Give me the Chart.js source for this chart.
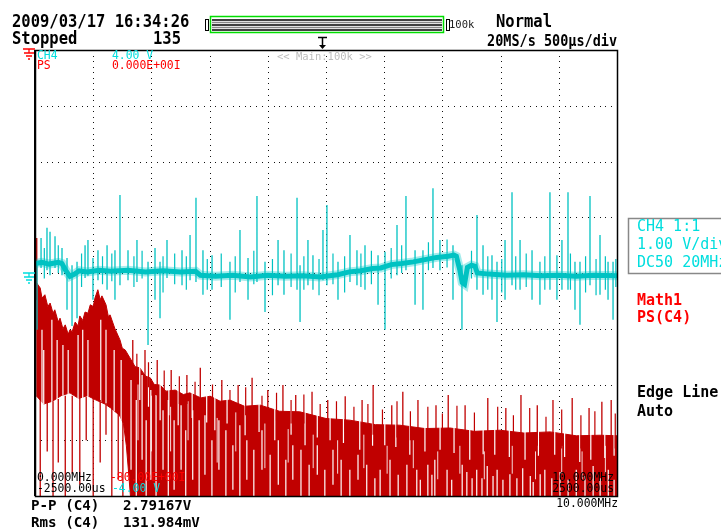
<!DOCTYPE html>
<html>
<head>
<meta charset="utf-8">
<script src="https://cdn.jsdelivr.net/npm/chart.js@4.4.1/dist/chart.umd.min.js"></script>
<style>
html, body { margin: 0; padding: 0; background: #fff; }
#wrap { position: relative; width: 721px; height: 530px; overflow: hidden; }
#wrap canvas { position: absolute; left: 0; top: 0; }
.t { position: absolute; white-space: pre; font-family: 'DejaVu Sans Mono', monospace; line-height: 1; }
</style>
</head>
<body>
<div id="wrap"><canvas id="scope" width="721" height="530"></canvas></div>
<script>
// CH4 trace: time in us, volts (1 V/div)
var baseT = [-2500,-2440,-2380,-2300,-2268,-2240,-2200,-2160,-2120,-2050,-1950,-1850,-1700,-1550,-1400,-1250,-1120,-1080,-950,-800,-650,-500,-350,-200,-50,100,200,300,400,470,560,650,750,850,950,1050,1100,1120,1150,1170,1190,1215,1250,1280,1300,1400,1550,1700,1850,2000,2150,2300,2500];
var baseV = [0.17,0.19,0.16,0.19,0.17,0.06,-0.06,-0.02,0.04,0.02,0.05,0.03,0.05,0.02,0.04,0.02,0.03,-0.04,-0.06,-0.04,-0.07,-0.04,-0.06,-0.05,-0.07,-0.03,0.02,0.04,0.08,0.09,0.15,0.17,0.2,0.24,0.28,0.3,0.32,0.3,0.05,-0.17,-0.2,0.1,0.14,0.12,0.0,-0.02,-0.04,-0.03,-0.05,-0.04,-0.06,-0.04,-0.05];

var spikeT = [-2483,-2448,-2397,-2371,-2328,-2268,-2225,-2182,-2139,-2070,-2045,-2002,-1959,-1881,-1813,-1770,-1701,-1624,-1529,-1469,-1426,-1366,-1237,-1168,-1117,-1057,-979,-825,-739,-670,-593,-524,-412,-361,-249,-223,-155,-112,-26,8,103,206,266,335,447,507,610,687,765,833,919,979,1091,1168,1297,1349,1426,1469,1538,1598,1667,1770,1838,1924,1984,2027,2079,2139,2182,2268,2354,2423,2466];
var spikeHi = [0.20,0.63,0.81,0.74,0.66,0.45,0.27,0.14,0.20,0.50,0.59,0.27,0.41,0.50,0.41,1.40,0.41,0.59,0.20,0.45,0.20,0.59,0.41,0.68,1.35,0.41,0.32,0.20,0.77,0.27,1.38,0.20,0.59,0.41,1.35,0.14,0.59,0.32,0.77,1.22,0.20,0.68,0.41,0.50,0.32,0.38,0.86,1.38,0.41,0.41,1.52,0.59,0.50,0.14,1.04,0.50,0.32,0.20,0.59,1.45,0.59,0.41,0.20,1.45,0.32,0.59,1.45,0.20,0.20,1.38,0.68,0.20,0.20];
var spikeLo = [-1.02,0.09,0.05,-0.04,0.09,-0.04,-0.66,-0.95,-0.81,-0.09,-0.05,-0.48,-0.13,-0.30,-0.48,-0.22,-0.13,-0.16,-1.29,-0.48,-0.81,-0.09,-0.22,-0.13,-0.16,-0.39,-0.30,-0.84,-0.16,-0.48,-0.16,-0.70,-0.22,-0.39,-0.30,-0.88,-0.22,-0.30,-0.13,-0.22,-0.48,-0.16,-0.22,-0.30,-0.57,-1.02,-0.04,0.05,-0.57,-0.66,0.09,0.05,-0.48,-1.02,-0.30,-0.39,-0.48,-0.88,-0.48,-0.22,-0.30,-0.48,-0.57,-0.30,-0.48,-0.30,-0.30,-0.66,-0.93,-0.22,-0.39,-0.48,-0.84];

// small glitches on CH4
var blipT = [-2420,-2300,-2100,-1920,-1840,-1650,-1580,-1400,-1300,-1200,-1020,-900,-780,-620,-460,-300,-190,-60,60,160,300,390,560,650,880,1040,1250,1390,1510,1630,1720,1880,2100,2230,2320,2400,2490];
var blipHi = [0.45,0.5,0.35,0.3,0.35,0.3,0.4,0.3,0.35,0.3,0.25,0.35,0.3,0.4,0.25,0.35,0.3,0.25,0.35,0.3,0.35,0.4,0.45,0.5,0.55,0.6,0.4,0.3,0.25,0.3,0.35,0.3,0.35,0.3,0.25,0.3,0.25];
var blipLo = [-0.1,0.0,-0.25,-0.2,-0.15,-0.25,-0.1,-0.35,-0.2,-0.3,-0.3,-0.25,-0.35,-0.2,-0.4,-0.25,-0.3,-0.4,-0.2,-0.35,-0.25,-0.2,-0.1,0.0,0.05,0.1,-0.1,-0.3,-0.35,-0.3,-0.25,-0.3,-0.3,-0.35,-0.4,-0.3,-0.25];

// Math1 PS(C4): frequency in MHz, dB (0 .. -80)
var specF = [0.02,0.03,0.09,0.12,0.17,0.22,0.26,0.31,0.34,0.40,0.43,0.48,0.52,0.57,0.60,0.64,0.69,0.74,0.77,0.82,0.86,0.91,0.95,1.00,1.03,1.08,1.12,1.15,1.22,1.26,1.29,1.37,1.46,1.50,1.55,1.63,1.72,1.80,1.90,1.98,2.05,2.15,2.25,2.41,2.55,2.66,2.85,3.01,3.18,3.35,3.60,3.87,4.20,4.55,5.00,5.41,5.85,6.27,6.70,7.13,7.55,7.99,8.40,8.85,9.30,9.71,10.0];
var specTopDb = [-44.8,-41.8,-42.7,-44.5,-43.9,-46.0,-45.4,-47.2,-46.6,-48.8,-48.1,-50.0,-49.3,-51.0,-50.2,-50.5,-48.8,-49.5,-47.7,-48.5,-47.0,-47.2,-45.7,-46.0,-44.5,-43.0,-44.8,-44.1,-45.7,-47.8,-47.5,-49.9,-52.0,-53.5,-53.8,-55.2,-56.8,-57.0,-58.5,-58.8,-60.0,-60.1,-61.2,-61.0,-61.8,-61.5,-62.4,-62.1,-63.0,-62.8,-63.9,-63.7,-64.8,-64.9,-66.1,-66.4,-67.2,-67.3,-67.9,-67.8,-68.4,-68.2,-68.7,-68.5,-69.2,-69.1,-69.2];
var lowF = [0.02,0.15,0.30,0.45,0.60,0.75,0.90,1.05,1.20,1.30,1.45,1.52,1.57,1.61,1.64,10.0];
var lowDb = [-62.0,-63.5,-63.0,-62.0,-61.5,-62.5,-62.0,-62.8,-63.5,-64.2,-65.5,-67.0,-71.0,-76.0,-80.0,-80.0];

var upF = [0.03,1.68,1.89,2.10,2.34,2.61,2.84,3.21,3.49,3.73,4.00,4.26,4.48,4.76,5.03,5.33,5.62,5.81,6.13,6.32,6.58,6.89,7.10,7.39,7.78,8.09,8.35,8.63,8.90,9.23,9.52,9.74,9.90];
var upHi = [-33.7,-52.0,-53.8,-55.6,-57.4,-58.3,-57.0,-59.2,-60.1,-58.8,-61.0,-60.1,-61.9,-61.3,-62.8,-62.1,-62.8,-60.1,-63.7,-61.3,-62.8,-63.7,-61.9,-63.7,-62.4,-64.2,-61.9,-63.7,-62.8,-62.4,-64.2,-63.1,-62.8];
var upLo = [-44.8,-58,-60,-62,-63,-63.5,-64,-65,-65.5,-65.5,-66,-66.5,-67,-67.5,-68,-68.5,-69,-69,-69.5,-69.5,-70,-70,-70,-70.5,-70.5,-70.5,-71,-71,-71,-71.5,-71.5,-71.5,-71.5];
var up2F = [1.75,1.95,2.22,2.48,2.75,3.05,3.35,3.62,3.90,4.15,4.40,4.62,4.90,5.18,5.48,5.72,5.97,6.22,6.45,6.75,7.00,7.25,7.55,7.95,8.22,8.50,8.78,9.05,9.38,9.62,9.97];
var up2Hi = [-54.5,-56.0,-57.5,-58.5,-59.5,-60.0,-61.0,-60.5,-62.0,-61.5,-62.8,-61.8,-63.5,-63.0,-64.0,-63.5,-64.5,-63.0,-64.8,-64.0,-65.2,-63.8,-65.0,-64.0,-65.5,-64.2,-65.8,-64.5,-65.5,-64.8,-65.2];
var up2Lo = [-58.5,-60.5,-62.5,-63.5,-64,-64.5,-65,-65.5,-66,-66.5,-67,-67,-68,-68,-68.5,-69,-69,-69.5,-70,-70,-70,-70.5,-70.5,-70.5,-71,-71,-71,-71.5,-71.5,-71.5,-71.5];

var downF = [0.09,0.21,0.31,0.40,0.52,0.64,0.77,0.88,1.00,1.12,1.22,1.32,1.43,1.51];
var downHi = [-62.5,-63.2,-63.0,-62.6,-62.0,-62.0,-62.4,-62.2,-62.3,-62.8,-63.3,-64.0,-65.2,-66.5];
var downLo = [-80,-72,-80,-74,-80,-76,-78,-70,-80,-74,-69,-80,-77,-80];

var gapF = [0.12,0.15,0.29,0.38,0.48,0.57,0.74,0.82,0.91,1.13,1.22,1.36,1.48,1.65,1.74,1.84,1.91,1.99,2.08,2.20,2.29,2.39,2.51,2.59,2.71,2.82,2.92,3.04,3.16,3.28,3.40,3.52,3.64,3.76,3.90,4.04,4.18,4.31,4.43,4.57,4.71,4.85,4.98,5.12,5.26,5.41,5.55,5.70,5.84,5.93,6.10,6.24,6.39,6.56,6.62,6.75,6.82,6.87,7.08,7.16,7.34,7.42,7.51,7.59,7.68,7.77,7.87,7.94,8.04,8.16,8.28,8.38,8.51,8.56,8.68,8.76,8.88,9.02,9.16,9.30,9.45,9.59,9.71,9.85,9.95];
var gapHi = [-50.2,-53.8,-48.4,-52.0,-52.9,-53.8,-51.1,-50.2,-52.0,-48.4,-50.2,-53.8,-55.6,-59.2,-62.8,-58.3,-66.4,-61.0,-61.9,-64.6,-62.8,-66.4,-63.7,-68.2,-64.6,-66.4,-65.5,-70.0,-66.4,-68.2,-70.9,-67.3,-70.0,-71.7,-68.2,-72.6,-70.0,-73.5,-70.9,-71.7,-74.4,-70.9,-75.3,-71.7,-73.5,-75.3,-72.6,-74.4,-76.8,-75.3,-73.5,-76.2,-74.4,-75.3,-77.1,-74.4,-76.2,-73.5,-75.3,-77.1,-74.4,-75.7,-76.8,-75.3,-76.8,-74.6,-76.4,-75.3,-77.1,-76.1,-76.8,-75.0,-76.4,-77.5,-76.1,-75.3,-76.8,-75.7,-77.1,-75.3,-76.4,-74.6,-76.8,-75.3,-77.1];
var gapLo = [-63.5,-63.5,-63.2,-63.0,-62.0,-62.0,-62.6,-62.4,-62.2,-63.2,-63.6,-64.8,-66.5,-75.3,-80,-73.5,-80,-77.1,-80,-75.3,-80,-78.9,-75.3,-80,-77.1,-80,-76.2,-80,-75.3,-80,-78.9,-80,-77.1,-80,-75.3,-80,-78.0,-80,-77.1,-80,-80,-76.2,-80,-78.0,-80,-80,-77.1,-80,-80,-80,-80,-80,-80,-80,-80,-80,-80,-80,-80,-80,-80,-80,-80,-80,-80,-80,-80,-80,-80,-80,-80,-80,-80,-80,-80,-80,-80,-80,-80,-80,-80,-80,-80,-80,-80];

var notchF = [1.80,1.95,2.15,2.30,2.46,2.70,2.95,3.09,3.30,3.61,3.85,4.12,4.40,4.64,4.85,5.07,5.30,5.58,5.80,6.01,6.20,6.44,6.70,6.96,7.20,7.47,7.70,7.90,8.15,8.42,8.65,8.93,9.10,9.36,9.55,9.79,9.95];
var notchHi = [-56.0,-58.0,-59.2,-60.5,-60.0,-61.0,-61.8,-61.2,-62.2,-62.5,-63.2,-63.5,-64.3,-64.2,-65.0,-65.2,-65.8,-65.8,-66.5,-66.3,-66.8,-66.6,-67.3,-67.0,-67.5,-67.4,-67.8,-67.5,-68.0,-67.8,-68.2,-67.7,-68.6,-68.4,-68.7,-68.3,-68.8];
var notchLo = [-62.8,-64.0,-66.4,-65.5,-67.3,-66.0,-66.8,-68.2,-67.0,-69.1,-68.5,-70.0,-69.0,-70.9,-69.5,-70.0,-70.5,-71.7,-71.0,-70.9,-71.2,-72.6,-72.0,-71.7,-72.3,-73.5,-72.5,-72.6,-73.0,-73.5,-72.8,-72.6,-73.0,-73.9,-73.5,-73.2,-72.8];

var midF = [1.77,2.00,2.33,2.63,3.13,3.45,3.95,4.35,4.78,5.20,5.65,6.05,6.50,6.92,7.30,7.72,8.20,8.60,9.05,9.40,9.80];
var midHi = [-60,-62,-64,-63,-66,-65,-67,-68,-69,-70,-69,-71,-70,-72,-71,-72,-71,-72,-71,-72,-71];
var midLo = [-70,-72,-72,-70,-74,-72,-75,-74,-75,-76,-75,-76,-75,-77,-76,-77,-76,-77,-76,-77,-76];

// screen texts
var headDate = '2009/03/17 16:34:26';
var headState = 'Stopped';
var headCount = '135';
var headMode = 'Normal';
var headRate = '20MS/s 500\u00b5s/div';
var chLabels = ['CH4 1:1', '1.00 V/div', 'DC50 20MHz'];
var mathLabels = ['Math1', 'PS(C4)'];
var trigLabels = ['Edge Line', 'Auto'];
var measNames = ['P-P (C4)', 'Rms (C4)'];
var measValues = ['2.79167V', '131.984mV'];

function pts(xs, ys) {
  return xs.map(function(x, i) { return {x: x, y: ys[i]}; });
}
function segs(xs, his, los) {
  var out = [];
  xs.forEach(function(x, i) {
    out.push({x: x, y: los[i]}, {x: x, y: his[i]}, {x: x, y: null});
  });
  return out;
}

var wrap = document.getElementById('wrap');
function put(txt, x, base, size, color, o) {
  o = o || {};
  var d = document.createElement('div');
  d.className = 't';
  d.textContent = txt;
  d.style.fontSize = size + 'px';
  d.style.color = color;
  d.style.top = (base - 0.846 * size) + 'px';
  if (o.right) d.style.right = (721 - x) + 'px'; else d.style.left = x + 'px';
  if (o.bold) d.style.fontWeight = 'bold';
  if (o.sy) {
    d.style.transform = 'scaleY(' + o.sy + ')';
    d.style.transformOrigin = '0 ' + (0.846 * size) + 'px';
  }
  wrap.appendChild(d);
}

var CYAN = '#00c2c2', CYTXT = '#00dede', RED = '#c00000', RTXT = '#ff0000';

var scopeChrome = {
  id: 'scopeChrome',
  beforeDatasetsDraw: function(chart) {
    var ctx = chart.ctx, fx = chart.scales.x, vy = chart.scales.yv;
    ctx.save();
    ctx.fillStyle = '#111';
    for (var i = 1; i < 10; i++) {
      var px = Math.round(fx.getPixelForValue(i));
      for (var k = 0; k <= 80; k++) ctx.fillRect(px, Math.round(vy.getPixelForValue(-4 + k * 0.1)), 1, 1);
    }
    for (var j = -3; j <= 3; j++) {
      var py = Math.round(vy.getPixelForValue(j));
      for (var m = 0; m <= 100; m++) ctx.fillRect(Math.round(fx.getPixelForValue(m * 0.1)), py, 1, 1);
    }
    ctx.restore();
  },
  afterDatasetsDraw: function(chart) {
    var ctx = chart.ctx, a = chart.chartArea;
    ctx.save();
    ctx.strokeStyle = '#000';
    ctx.lineWidth = 1.5;
    ctx.strokeRect(a.left + 0.5, a.top + 0.5, a.right - a.left, a.bottom - a.top);
    ctx.fillStyle = '#000';
    ctx.fillRect(a.left - 1, a.top, 2, a.bottom - a.top);

    // zoom bar
    ctx.lineWidth = 1;
    ctx.strokeRect(205.5, 19.5, 3, 11);
    ctx.strokeRect(446.5, 19.5, 3, 11);
    ctx.strokeStyle = '#00dd00';
    ctx.lineWidth = 1.5;
    ctx.strokeRect(210.5, 16.5, 233, 16);
    [[20, '#000'], [22.5, '#888'], [25, '#000'], [27.5, '#888'], [30, '#000']].forEach(function(l) {
      ctx.strokeStyle = l[1];
      ctx.lineWidth = 1.3;
      ctx.beginPath(); ctx.moveTo(212, l[0]); ctx.lineTo(442, l[0]); ctx.stroke();
    });

    // trigger position mark
    ctx.strokeStyle = '#000';
    ctx.lineWidth = 1.5;
    ctx.beginPath();
    ctx.moveTo(318, 37.5); ctx.lineTo(327, 37.5);
    ctx.moveTo(322.5, 37); ctx.lineTo(322.5, 46);
    ctx.stroke();
    ctx.beginPath(); ctx.moveTo(319, 45); ctx.lineTo(326, 45); ctx.lineTo(322.5, 49); ctx.closePath(); ctx.fill();

    // ground markers
    function ground(y, col) {
      ctx.strokeStyle = col;
      ctx.lineWidth = 1.3;
      ctx.beginPath();
      ctx.moveTo(23, y); ctx.lineTo(35, y);
      ctx.moveTo(29, y); ctx.lineTo(29, y + 4);
      ctx.moveTo(24, y + 4); ctx.lineTo(34, y + 4);
      ctx.moveTo(26, y + 7); ctx.lineTo(32, y + 7);
      ctx.moveTo(28, y + 10); ctx.lineTo(30, y + 10);
      ctx.stroke();
    }
    ground(49, RTXT);
    ground(Math.round(chart.scales.yv.getPixelForValue(0)), CYTXT);

    // channel box
    ctx.strokeStyle = '#888';
    ctx.lineWidth = 1.5;
    ctx.strokeRect(628.5, 218.5, 110, 55);
    ctx.restore();
  }
};

new Chart(document.getElementById('scope'), {
  type: 'line',
  data: {
    datasets: [
      { data: pts(specF, specTopDb), xAxisID: 'x', yAxisID: 'y', borderColor: RED, backgroundColor: RED, borderWidth: 1, fill: '+1', order: 10 },
      { data: pts(lowF, lowDb), xAxisID: 'x', yAxisID: 'y', borderColor: RED, borderWidth: 1, fill: false, order: 10 },
      { data: segs(gapF, gapHi, gapLo), xAxisID: 'x', yAxisID: 'y', borderColor: '#fff', borderWidth: 1.2, order: 9 },
      { data: segs(notchF, notchHi, notchLo), xAxisID: 'x', yAxisID: 'y', borderColor: '#fff', borderWidth: 1.2, order: 9 },
      { data: segs(midF, midHi, midLo), xAxisID: 'x', yAxisID: 'y', borderColor: 'rgba(255,255,255,0.85)', borderWidth: 1, order: 9 },
      { data: segs(downF, downHi, downLo), xAxisID: 'x', yAxisID: 'y', borderColor: RED, borderWidth: 1.3, order: 8 },
      { data: segs(upF, upHi, upLo), xAxisID: 'x', yAxisID: 'y', borderColor: RED, borderWidth: 1.3, order: 8 },
      { data: segs(up2F, up2Hi, up2Lo), xAxisID: 'x', yAxisID: 'y', borderColor: RED, borderWidth: 1.2, order: 8 },
      { data: pts(baseT, baseV), xAxisID: 'xt', yAxisID: 'yv', borderColor: 'rgba(0,200,200,0.35)', borderWidth: 9, order: 4 },
      { data: pts(baseT, baseV), xAxisID: 'xt', yAxisID: 'yv', borderColor: CYAN, borderWidth: 5, order: 3 },
      { data: segs(blipT, blipHi, blipLo), xAxisID: 'xt', yAxisID: 'yv', borderColor: CYAN, borderWidth: 1.2, order: 2 },
      { data: segs(spikeT, spikeHi, spikeLo), xAxisID: 'xt', yAxisID: 'yv', borderColor: CYAN, borderWidth: 1.3, order: 1 }
    ]
  },
  options: {
    responsive: false,
    animation: false,
    events: [],
    layout: { padding: { left: 35, right: 104, top: 50, bottom: 34 } },
    elements: { point: { radius: 0 }, line: { tension: 0 } },
    plugins: { legend: { display: false }, tooltip: { enabled: false } },
    scales: {
      x: { type: 'linear', min: 0, max: 10, display: false },
      xt: { type: 'linear', min: -2500, max: 2500, display: false },
      y: { type: 'linear', min: -80, max: 0, display: false },
      yv: { type: 'linear', min: -4, max: 4, display: false }
    }
  },
  plugins: [scopeChrome]
});

// header
put(headDate, 12, 28, 15.5, '#000', { bold: true, sy: 1.15 });
put(headState, 12, 45, 15.5, '#000', { bold: true, sy: 1.15 });
put(headCount, 153, 45, 15.5, '#000', { bold: true, sy: 1.15 });
put(headMode, 496, 28, 15.5, '#000', { bold: true, sy: 1.15 });
put(headRate, 487, 46, 13.5, '#000', { bold: true, sy: 1.15 });
put('100k', 449, 28, 10.5, '#222');

// in-graticule labels
put('CH4', 37, 60, 11.4, CYTXT);
put('4.00 V', 112, 60, 11.4, CYTXT);
put('PS', 37, 70, 11.4, RTXT);
put('0.000E+00I', 112, 70, 11.4, RTXT);
put('<< Main:100k >>', 277, 60, 10.5, '#bdbdbd');
put('0.000MHz', 37, 482, 11.4, '#000');
put('-80.00E+00I', 110, 482, 11.4, RTXT);
put('-2500.00us', 37, 493, 11.4, '#000');
put('-4.00 V', 112, 493, 11.4, CYTXT);
put('10.000MHz', 614, 482, 11.4, '#000', { right: true });
put('2500.00us', 614, 493, 11.4, '#000', { right: true });
put('10.000MHz', 618, 508, 11.4, '#000', { right: true });

// right panel
put(chLabels[0], 637, 232, 15, CYTXT);
put(chLabels[1], 637, 250, 15, CYTXT);
put(chLabels[2], 637, 268, 15, CYTXT);
put(mathLabels[0], 637, 306, 15, RTXT, { bold: true });
put(mathLabels[1], 637, 323, 15, RTXT, { bold: true });
put(trigLabels[0], 637, 398, 15, '#000', { bold: true });
put(trigLabels[1], 637, 417, 15, '#000', { bold: true });

// measurements
put(measNames[0], 31, 510, 14.2, '#000', { bold: true });
put(measValues[0], 123, 510, 14.2, '#000', { bold: true });
put(measNames[1], 31, 527, 14.2, '#000', { bold: true });
put(measValues[1], 123, 527, 14.2, '#000', { bold: true });
</script>
</body>
</html>
